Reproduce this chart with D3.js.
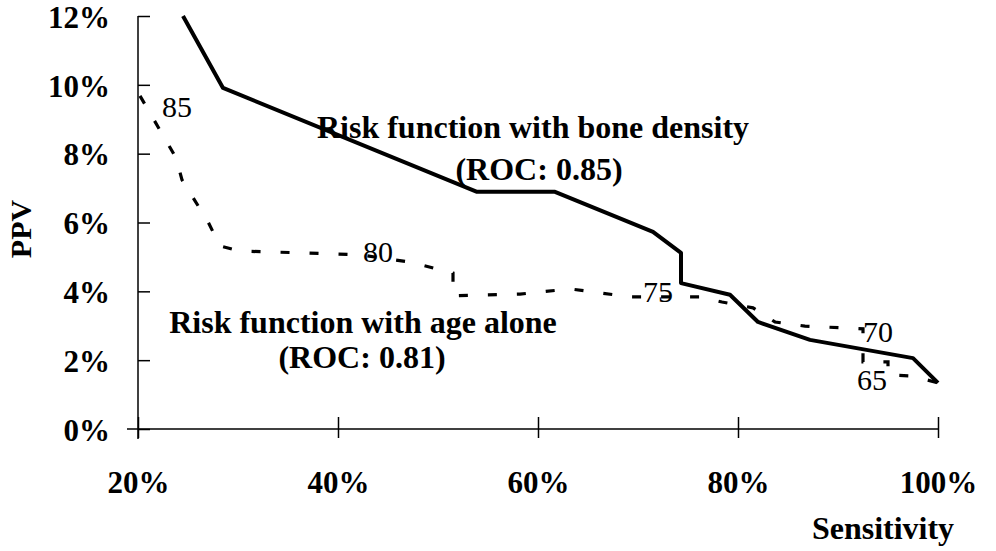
<!DOCTYPE html>
<html lang="en">
  <head>
    <meta charset="utf-8" />
    <title>PPV vs Sensitivity</title>
    <script src="https://d3js.org/d3.v7.min.js" charset="utf-8"></script>
    <style>
      body {
        margin: 0;
        background: #fff;
      }
    </style>
  </head>
  <body>
    <div id="svg-container"></div>

    <script>
      // sensitivity (%) and PPV (%)
      const boneSens = [24.5, 28.5, 53.9, 61.7, 71.5, 74.3, 74.3, 79.2, 82.0, 87.2, 97.5, 100];
      const bonePPV  = [12.0, 9.91, 6.89, 6.89, 5.73, 5.12, 4.24, 3.90, 3.11, 2.59, 2.06, 1.34];

      const ageSens = [20.2, 23.8, 24.4, 27.0, 28.2, 30.2, 36.2, 42.2, 47.2, 51.5, 51.5, 58.2, 63.2, 69.2, 76.2, 78.4, 81.5, 83.7, 86.7, 92.5, 92.5, 95.0, 95.0, 97.4, 100];
      const agePPV  = [9.68, 7.88, 7.24, 6.02, 5.32, 5.17, 5.12, 5.06, 4.85, 4.53, 3.87, 3.92, 4.07, 3.84, 3.84, 3.69, 3.52, 3.11, 2.99, 2.91, 1.95, 1.95, 1.57, 1.54, 1.34];

      // age cut-offs written along the dashed curve
      const cutLabels = ["85", "80", "75", "70", "65"];
      const cutSens   = [22.4, 42.5, 70.5, 92.5, 91.9];
      const cutPPV    = [9.07, 4.85, 3.69, 2.53, 1.13];

      const xTicks = [20, 40, 60, 80, 100];
      const yTicks = [0, 2, 4, 6, 8, 10, 12];

      const notes = ["Risk function with bone density", "(ROC: 0.85)", "Risk function with age alone", "(ROC: 0.81)"];
      const noteSens = [59.5, 60.1, 42.5, 42.4];
      const notePPV  = [8.46, 7.24, 2.79, 1.77];

      const width = 996, height = 551;
      const serif = "'Liberation Serif', 'Times New Roman', serif";

      const svg = d3.select("#svg-container")
        .append("svg")
        .attr("width", width)
        .attr("height", height);

      const x = d3.scaleLinear().domain([20, 100]).range([138, 938]);
      const y = d3.scaleLinear().domain([0, 12]).range([429, 16]);

      // axes
      const xaxis = d3.axisBottom(x).tickValues(xTicks).tickSize(9)
        .tickFormat((d) => d + "%");
      const g_x = svg.append("g")
        .attr("transform", `translate(0,${y(0)})`)
        .call(xaxis);
      g_x.select(".domain").remove();
      g_x.selectAll(".tick line").attr("y1", -12).attr("stroke-width", 1.5);
      g_x.selectAll(".tick text").attr("y", 64).attr("dy", 0);

      const yaxis = d3.axisLeft(y).tickValues(yTicks).tickSize(12)
        .tickFormat((d) => d + "%");
      const g_y = svg.append("g")
        .attr("transform", `translate(${x(20)},0)`)
        .call(yaxis);
      g_y.select(".domain").remove();
      g_y.selectAll(".tick line").attr("x2", 12).attr("stroke-width", 1.5);
      g_y.selectAll(".tick text").attr("x", -28).attr("dy", "0.36em");

      svg.selectAll(".tick text")
        .style("font-family", serif)
        .style("font-size", "31px")
        .style("font-weight", "bold")
        .attr("fill", "#000");

      // axis lines, the y line runs a bit below the x axis
      svg.append("line")
        .attr("x1", x(20) - 11).attr("x2", x(100))
        .attr("y1", y(0)).attr("y2", y(0))
        .attr("stroke", "#000").attr("stroke-width", 1.5);
      svg.append("line")
        .attr("x1", x(20)).attr("x2", x(20))
        .attr("y1", y(12)).attr("y2", y(0) + 10)
        .attr("stroke", "#000").attr("stroke-width", 1.5);

      // curves
      const line = d3.line().x((d) => x(d[0])).y((d) => y(d[1]));

      svg.append("path")
        .datum(d3.zip(ageSens, agePPV))
        .attr("d", line)
        .attr("fill", "none")
        .attr("stroke", "#000")
        .attr("stroke-width", 3.2)
        .attr("stroke-dasharray", "9,20");

      svg.append("path")
        .datum(d3.zip(boneSens, bonePPV))
        .attr("d", line)
        .attr("fill", "none")
        .attr("stroke", "#000")
        .attr("stroke-width", 4)
        .attr("stroke-linejoin", "round");

      // cut-off labels
      svg.selectAll(".cut")
        .data(d3.zip(cutLabels, cutSens, cutPPV))
        .join("text")
        .attr("class", "cut")
        .attr("x", (d) => x(d[1]))
        .attr("y", (d) => y(d[2]))
        .style("font-family", serif)
        .style("font-size", "30px")
        .text((d) => d[0]);

      // curve names
      svg.selectAll(".note")
        .data(d3.zip(notes, noteSens, notePPV))
        .join("text")
        .attr("class", "note")
        .attr("text-anchor", "middle")
        .attr("x", (d) => x(d[1]))
        .attr("y", (d) => y(d[2]))
        .style("font-family", serif)
        .style("font-size", "32px")
        .style("font-weight", "bold")
        .text((d) => d[0]);

      // axis titles
      svg.append("text")
        .attr("text-anchor", "middle")
        .attr("x", 883).attr("y", 539)
        .style("font-family", serif)
        .style("font-size", "32px")
        .style("font-weight", "bold")
        .text("Sensitivity");

      svg.append("text")
        .attr("text-anchor", "middle")
        .attr("transform", "translate(31,229) rotate(-90)")
        .style("font-family", serif)
        .style("font-size", "30px")
        .style("font-weight", "bold")
        .text("PPV");
    </script>
  </body>
</html>
